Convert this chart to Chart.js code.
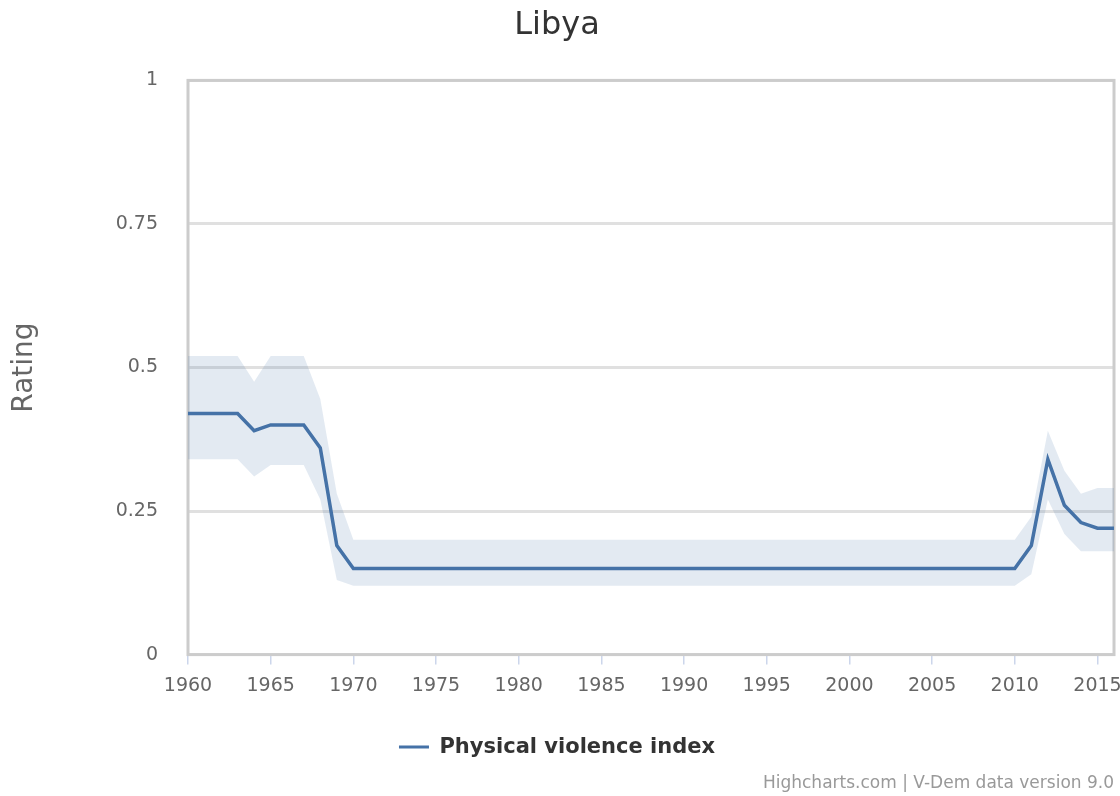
<!DOCTYPE html>
<html>
<head>
<meta charset="utf-8">
<title>Libya – Physical violence index</title>
<script src="https://cdn.jsdelivr.net/npm/chart.js@4.4.1/dist/chart.umd.min.js"></script>
<style>
  html, body { margin: 0; padding: 0; background: #ffffff; }
  #wrap { width: 1120px; height: 796px; }
</style>
</head>
<body>
<div id="wrap"><canvas id="chart" width="1120" height="796"></canvas></div>
<script>
// Years covered by the series
const years = [
  1960, 1961, 1962, 1963, 1964, 1965, 1966, 1967, 1968, 1969,
  1970, 1971, 1972, 1973, 1974, 1975, 1976, 1977, 1978, 1979,
  1980, 1981, 1982, 1983, 1984, 1985, 1986, 1987, 1988, 1989,
  1990, 1991, 1992, 1993, 1994, 1995, 1996, 1997, 1998, 1999,
  2000, 2001, 2002, 2003, 2004, 2005, 2006, 2007, 2008, 2009,
  2010, 2011, 2012, 2013, 2014, 2015, 2016
];

// Point estimate of the physical violence index
const violenceIndex = [
  0.42, 0.42, 0.42, 0.42, 0.39, 0.40, 0.40, 0.40, 0.36, 0.19,
  0.15, 0.15, 0.15, 0.15, 0.15, 0.15, 0.15, 0.15, 0.15, 0.15,
  0.15, 0.15, 0.15, 0.15, 0.15, 0.15, 0.15, 0.15, 0.15, 0.15,
  0.15, 0.15, 0.15, 0.15, 0.15, 0.15, 0.15, 0.15, 0.15, 0.15,
  0.15, 0.15, 0.15, 0.15, 0.15, 0.15, 0.15, 0.15, 0.15, 0.15,
  0.15, 0.19, 0.34, 0.26, 0.23, 0.22, 0.22
];

// Upper edge of the confidence band
const upperBound = [
  0.52, 0.52, 0.52, 0.52, 0.475, 0.52, 0.52, 0.52, 0.445, 0.28,
  0.20, 0.20, 0.20, 0.20, 0.20, 0.20, 0.20, 0.20, 0.20, 0.20,
  0.20, 0.20, 0.20, 0.20, 0.20, 0.20, 0.20, 0.20, 0.20, 0.20,
  0.20, 0.20, 0.20, 0.20, 0.20, 0.20, 0.20, 0.20, 0.20, 0.20,
  0.20, 0.20, 0.20, 0.20, 0.20, 0.20, 0.20, 0.20, 0.20, 0.20,
  0.20, 0.24, 0.39, 0.32, 0.28, 0.29, 0.29
];

// Lower edge of the confidence band
const lowerBound = [
  0.34, 0.34, 0.34, 0.34, 0.31, 0.33, 0.33, 0.33, 0.27, 0.13,
  0.12, 0.12, 0.12, 0.12, 0.12, 0.12, 0.12, 0.12, 0.12, 0.12,
  0.12, 0.12, 0.12, 0.12, 0.12, 0.12, 0.12, 0.12, 0.12, 0.12,
  0.12, 0.12, 0.12, 0.12, 0.12, 0.12, 0.12, 0.12, 0.12, 0.12,
  0.12, 0.12, 0.12, 0.12, 0.12, 0.12, 0.12, 0.12, 0.12, 0.12,
  0.12, 0.14, 0.27, 0.21, 0.18, 0.18, 0.18
];

// Axis tick labels
const xTickYears = [1960, 1965, 1970, 1975, 1980, 1985, 1990, 1995, 2000, 2005, 2010, 2015];
const yTickValues = [0, 0.25, 0.5, 0.75, 1];

const FONT = "'DejaVu Sans', 'Liberation Sans', sans-serif";
const LINE_COLOR = '#4572a7';
const BAND_COLOR = 'rgba(69, 114, 167, 0.15)';

const toPoints = (vals) => years.map((y, i) => ({ x: y, y: vals[i] }));

// Grey frame around the plotting area
const plotFrame = {
  id: 'plotFrame',
  beforeDatasetsDraw(chart) {
    const { ctx, chartArea: a } = chart;
    ctx.save();
    ctx.strokeStyle = '#cccccc';
    ctx.lineWidth = 3;
    ctx.strokeRect(a.left, a.top, a.right - a.left, a.bottom - a.top);
    ctx.restore();
  }
};

new Chart(document.getElementById('chart'), {
  type: 'line',
  data: {
    datasets: [
      {
        label: 'upper',
        data: toPoints(upperBound),
        borderWidth: 0,
        borderColor: 'rgba(0,0,0,0)',
        backgroundColor: BAND_COLOR,
        pointRadius: 0,
        fill: '+1',
        order: 2
      },
      {
        label: 'lower',
        data: toPoints(lowerBound),
        borderWidth: 0,
        borderColor: 'rgba(0,0,0,0)',
        backgroundColor: BAND_COLOR,
        pointRadius: 0,
        fill: false,
        order: 2
      },
      {
        label: 'Physical violence index',
        data: toPoints(violenceIndex),
        borderColor: LINE_COLOR,
        backgroundColor: LINE_COLOR,
        borderWidth: 3.5,
        pointRadius: 0,
        fill: false,
        tension: 0,
        order: 1
      }
    ]
  },
  options: {
    responsive: false,
    animation: false,
    devicePixelRatio: 1,
    layout: { padding: { left: 0, right: 6, top: 0, bottom: 0 } },
    scales: {
      x: {
        type: 'linear',
        min: 1960,
        max: 2016,
        afterBuildTicks(axis) { axis.ticks = xTickYears.map(v => ({ value: v })); },
        afterFit(axis) { axis.height = 72; axis.paddingLeft = 0; axis.paddingRight = 0; },
        border: { display: false },
        grid: {
          drawOnChartArea: false,
          drawTicks: true,
          tickLength: 10,
          color: '#ccd6eb',
          lineWidth: 1.5
        },
        ticks: {
          autoSkip: false,
          maxRotation: 0,
          padding: 10,
          color: '#666666',
          font: { family: FONT, size: 19 },
          callback: (v) => String(v)
        }
      },
      y: {
        min: 0,
        max: 1,
        afterBuildTicks(axis) { axis.ticks = yTickValues.map(v => ({ value: v })); },
        afterFit(axis) { axis.width = 188; },
        border: { display: false },
        grid: {
          drawTicks: false,
          color: '#e0e0e0',
          lineWidth: 3
        },
        ticks: {
          padding: 30,
          color: '#666666',
          font: { family: FONT, size: 19 },
          callback: (v) => String(v)
        },
        title: {
          display: true,
          text: 'Rating',
          color: '#666666',
          font: { family: FONT, size: 28 },
          padding: { top: 8, bottom: 0 }
        }
      }
    },
    plugins: {
      title: {
        display: true,
        text: 'Libya',
        color: '#333333',
        font: { family: FONT, size: 32, weight: 'normal' },
        padding: { top: 6, bottom: 36 }
      },
      legend: {
        display: true,
        position: 'bottom',
        labels: {
          boxWidth: 30,
          boxHeight: 3,
          padding: 10,
          color: '#333333',
          font: { family: FONT, size: 21, weight: 'bold' },
          filter: (item) => item.datasetIndex === 2,
          generateLabels(chart) {
            const ds = chart.data.datasets[2];
            return [{
              text: ds.label,
              fillStyle: LINE_COLOR,
              strokeStyle: LINE_COLOR,
              fontColor: '#333333',
              lineWidth: 0,
              datasetIndex: 2,
              hidden: false
            }];
          }
        }
      },
      subtitle: {
        display: true,
        position: 'bottom',
        align: 'end',
        text: 'Highcharts.com | V-Dem data version 9.0',
        color: '#999999',
        font: { family: FONT, size: 17, weight: 'normal' },
        padding: { top: 6, bottom: 2 }
      },
      tooltip: { enabled: false }
    }
  },
  plugins: [plotFrame]
});
</script>
</body>
</html>
